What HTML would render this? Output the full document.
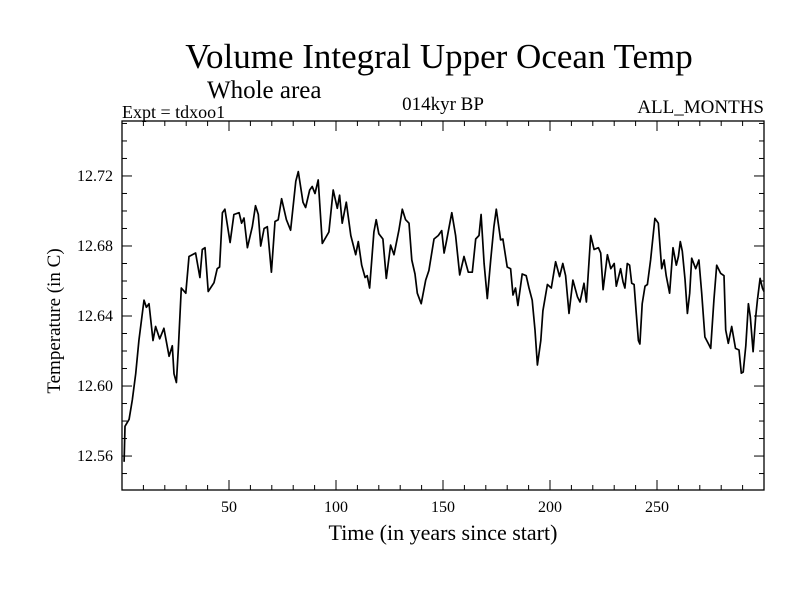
<!DOCTYPE html>
<html><head><meta charset="utf-8"><style>
body{margin:0;background:#fff;}
svg text{font-family:"Liberation Serif",serif;fill:#000;}
</style></head><body>
<svg id="chart" width="800" height="600" xmlns="http://www.w3.org/2000/svg">
<rect width="800" height="600" fill="#fff"/>
<text x="439" y="68" font-size="35" text-anchor="middle">Volume Integral Upper Ocean Temp</text>
<text x="207" y="98" font-size="25">Whole area</text>
<text x="122" y="118" font-size="18">Expt = tdxoo1</text>
<text x="443" y="110" font-size="19" text-anchor="middle">014kyr BP</text>
<text x="764" y="113" font-size="19" text-anchor="end">ALL_MONTHS</text>
<text x="443" y="540" font-size="22" text-anchor="middle">Time (in years since start)</text>
<text transform="translate(60,321) rotate(-90)" font-size="19" text-anchor="middle">Temperature (in C)</text>
<g id="axes"></g>
<g id="series"></g>
</svg>
<script>
const years=[1,1.4,3.3,4.8,6.4,7.9,10.3,11.4,12.6,14.5,15.7,17.6,19.6,22,23.5,24.3,25.4,26.3,27.7,29.8,31.3,34.4,36.4,37.5,38.8,40.3,43,44.5,45.6,46.9,48.1,50.5,52.3,54.7,55.9,57,58.6,60.9,62.4,63.7,64.8,66.4,67.9,69.8,71.5,73,74.6,76.8,78.8,81.2,82.4,84.6,85.8,87.7,88.9,90.2,91.7,93.6,96.7,98.7,100.6,101.7,102.9,104.8,106.9,109.2,110.4,112,113.6,114.6,115.7,117.7,118.8,120,121.9,123.5,125.5,127.1,129.4,131,132.5,134.1,135.4,136.9,138,139.8,141.9,143.4,145.8,147.8,149.4,150.5,151.6,154.1,155.9,157.8,159.8,161.8,163.7,165.3,166.8,167.8,169.2,170.7,172.3,173.8,174.9,176.9,178,180,181.6,182.7,183.9,185,187,188.9,190.2,191.7,193,194.1,195.7,196.7,198.8,200.6,202.6,204.5,206,207.3,208.9,210.7,212.8,214,215.9,217,219,220.6,222.6,223.7,224.8,226.8,228.4,230,231,233,234.1,235,236.1,237.2,238.2,239.3,240.3,241.3,242,243.1,244.4,245.5,247,249,250.6,252.2,253.3,254.3,255.9,257.5,259,260,260.9,261.8,263.1,264.2,265.3,266.2,268.1,269.6,270.9,272.4,274.3,275.1,276.6,277.9,279.7,281.3,282.1,283.3,284.9,286.7,288.3,289.4,290.3,291.5,292.7,293.6,294.9,296.1,296.9,298.2,299.3,300];
const temps=[12.5567,12.577,12.581,12.592,12.607,12.626,12.649,12.645,12.647,12.626,12.634,12.627,12.633,12.617,12.623,12.607,12.602,12.621,12.656,12.653,12.674,12.676,12.662,12.678,12.679,12.654,12.659,12.667,12.668,12.699,12.701,12.682,12.698,12.699,12.693,12.696,12.679,12.691,12.703,12.698,12.680,12.690,12.691,12.665,12.694,12.695,12.707,12.695,12.689,12.717,12.7225,12.705,12.702,12.712,12.714,12.710,12.7177,12.6815,12.688,12.712,12.7015,12.709,12.693,12.705,12.686,12.675,12.6825,12.669,12.662,12.663,12.656,12.688,12.695,12.687,12.684,12.6615,12.6805,12.675,12.689,12.701,12.695,12.693,12.672,12.664,12.653,12.647,12.6605,12.666,12.684,12.686,12.6888,12.676,12.6825,12.699,12.686,12.6635,12.674,12.665,12.665,12.684,12.686,12.698,12.670,12.650,12.672,12.691,12.701,12.6835,12.684,12.668,12.667,12.652,12.656,12.646,12.664,12.663,12.656,12.649,12.632,12.612,12.626,12.643,12.658,12.656,12.671,12.6625,12.670,12.663,12.6415,12.6605,12.651,12.648,12.6587,12.648,12.686,12.678,12.679,12.676,12.655,12.675,12.667,12.670,12.657,12.667,12.6596,12.656,12.670,12.669,12.6587,12.658,12.642,12.626,12.624,12.647,12.657,12.658,12.672,12.6958,12.693,12.667,12.672,12.663,12.653,12.679,12.669,12.674,12.6825,12.677,12.661,12.6415,12.653,12.673,12.667,12.672,12.653,12.628,12.6235,12.6215,12.649,12.669,12.6644,12.663,12.632,12.6244,12.634,12.6215,12.6206,12.6073,12.608,12.623,12.647,12.6396,12.6196,12.6396,12.649,12.6615,12.6558,12.654];
const xTickLabels=[50,100,150,200,250];
const yTickLabels=["12.56","12.60","12.64","12.68","12.72"];

const L=122,R=764,T=121,B=490;
const X0=0,X1=300,Y0=12.5406,Y1=12.7514;
function xs(v){return L+(v-X0)/(X1-X0)*(R-L);}
function ys(v){return B-(v-Y0)/(Y1-Y0)*(B-T);}
const NS="http://www.w3.org/2000/svg";
const axes=document.getElementById('axes');
function mk(tag,attrs,parent){const e=document.createElementNS(NS,tag);for(const k in attrs)e.setAttribute(k,attrs[k]);parent.appendChild(e);return e;}
const frame=mk('rect',{x:L,y:T,width:R-L,height:B-T,fill:'none',stroke:'#000','stroke-width':1.3},axes);


for(let v=10;v<300;v+=10){
  const len=(v%50===0)?10:5;const x=xs(v);
  const t1=mk('line',{x1:x,y1:B,x2:x,y2:B-len,stroke:'#000'},axes);
  
  
  const t2=mk('line',{x1:x,y1:T,x2:x,y2:T+len,stroke:'#000'},axes);
  
  
}
xTickLabels.forEach(v=>{
  const t=mk('text',{x:xs(v),y:B+22,'font-size':16,'text-anchor':'middle'},axes);t.textContent=v;
  
  
});
for(let i=55;i<=75;i++){
  const v=i/100;const y=ys(12+v);const len=(i%4===0)?10:5;
  const a=mk('line',{x1:L,y1:y,x2:L+len,y2:y,stroke:'#000'},axes);
  
  
  const b=mk('line',{x1:R,y1:y,x2:R-len,y2:y,stroke:'#000'},axes);
  
  
}
yTickLabels.forEach(s=>{
  const t=mk('text',{x:L-9,y:ys(parseFloat(s))+5,'font-size':16,'text-anchor':'end'},axes);t.textContent=s;
  
  
});
const pts=years.map((y,i)=>xs(y).toFixed(1)+','+ys(temps[i]).toFixed(1)).join(' ');
const line=mk('polyline',{points:pts,fill:'none',stroke:'#000','stroke-width':1.7,'stroke-linejoin':'round'},document.getElementById('series'));


</script>
</body></html>
